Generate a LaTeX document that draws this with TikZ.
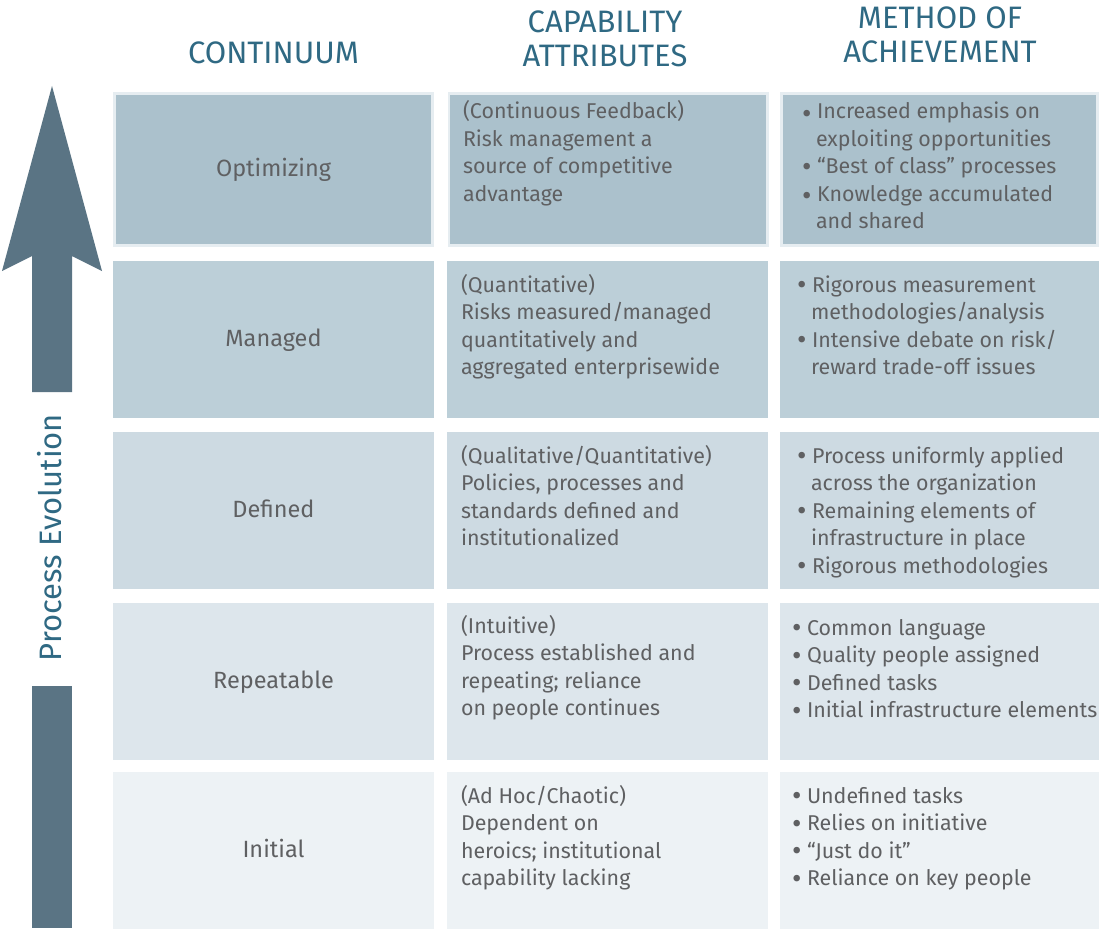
\documentclass[tikz,border=0pt]{standalone}
\usepackage{fontspec}
\setmainfont{Fira Sans}
\definecolor{rowA}{HTML}{ABC1CC}
\definecolor{rowB}{HTML}{BCCFD8}
\definecolor{rowC}{HTML}{CDDAE2}
\definecolor{rowD}{HTML}{DDE6EC}
\definecolor{rowE}{HTML}{EDF2F5}
\definecolor{edgec}{HTML}{E6EDF1}
\definecolor{txt}{HTML}{5F6062}
\definecolor{head}{HTML}{2F6983}
\definecolor{arrowc}{HTML}{5A7484}
\newcommand\bigdot{{\fontsize{29}{27.5}\selectfont•}}
\newcommand\bul{\makebox[15pt][l]{\raisebox{-2.5pt}{\bigdot}}}
\newcommand\lowbul{\makebox[15pt][l]{\raisebox{-4.5pt}{\bigdot}}}
\newcommand\ind{\hspace*{14pt}}
\newcommand\blk[1]{\parbox[t]{330pt}{\raggedright #1}}
\begin{document}
\begin{tikzpicture}[x=1pt,y=-1pt,
  cell/.style={draw=none, inner sep=0pt, outer sep=0pt, minimum width=321pt, minimum height=157pt},
  body/.style={inner sep=0pt, outer sep=0pt, text=txt, font=\fontsize{21.4}{27.5}\selectfont},
  label/.style={inner sep=0pt, outer sep=0pt, text=txt, font=\fontsize{23.5}{27.5}\selectfont, anchor=base},
  head/.style={inner sep=0pt, outer sep=0pt, text=head, font=\fontsize{31}{34}\selectfont, anchor=base}]
\useasboundingbox (0,0) rectangle (1099,928);
\fill[white] (0,0) rectangle (1099,928);
% top row (with light edge)
\node[cell, fill=edgec, minimum height=155pt] (e11) at (273.5,169.5) {};
\node[cell, fill=rowA, minimum width=315.5pt, minimum height=149.5pt] (c11) at (273.5,169.5) {};
\node[cell, fill=edgec, minimum height=155pt] (e12) at (608,169.5) {};
\node[cell, fill=rowA, minimum width=315.5pt, minimum height=149.5pt] (c12) at (608,169.5) {};
\node[cell, fill=edgec, minimum width=319pt, minimum height=155pt] (e13) at (939.5,169.5) {};
\node[cell, fill=rowA, minimum width=313.5pt, minimum height=149.5pt] (c13) at (939.5,169.5) {};
% other rows
\foreach \r/\yc/\col in {2/339.5/rowB, 3/510.5/rowC, 4/681.5/rowD, 5/850/rowE}{
  \node[cell, fill=\col] (c\r1) at (273.5,\yc) {};
  \node[cell, fill=\col] (c\r2) at (607.5,\yc) {};
  \node[cell, fill=\col, minimum width=319pt] (c\r3) at (939.5,\yc) {};
}
% headers
\node[head] (h1) at (273.5,64) {CONTINUUM};
\node[head] (h2) at (605,33) {\parbox[t]{300pt}{\centering CAPABILITY\\ATTRIBUTES}};
\node[head] (h3) at (940,29) {\parbox[t]{300pt}{\centering METHOD OF\\ACHIEVEMENT}};
% arrow
\fill[arrowc] (52,86) -- (102,271) -- (72,256) -- (72,392) -- (32,392) -- (32,256) -- (2,271) -- cycle;
\fill[arrowc] (32,686) rectangle (72,928);
\node[rotate=90, inner sep=0pt, text=head, font=\fontsize{31}{34}\selectfont] (pe) at (50,537.5) {Process Evolution};
% column 1 labels
\node[label] (l1) at (273.5,177) {Optimizing};
\node[label] (l2) at (273.5,346) {Managed};
\node[label] (l3) at (273.5,517) {Defined};
\node[label] (l4) at (273.5,688) {Repeatable};
\node[label] (l5) at (273.5,857) {Initial};
% column 2
\node[body, anchor=base west] (a1) at (463,119) {\blk{(Continuous Feedback)\\Risk management a\\source of competitive\\advantage}};
\node[body, anchor=base west] (a2) at (461,292) {\blk{(Quantitative)\\Risks measured/managed\\quantitatively and\\aggregated enterprisewide}};
\node[body, anchor=base west] (a3) at (461,463) {\blk{(Qualitative/Quantitative)\\Policies, processes and\\standards defined and\\institutionalized}};
\node[body, anchor=base west] (a4) at (461,633) {\blk{(Intuitive)\\Process established and\\repeating; reliance\\on people continues}};
\node[body, anchor=base west] (a5) at (461,803) {\blk{(Ad Hoc/Chaotic)\\Dependent on\\heroics; institutional\\capability lacking}};
% column 3
\node[body, anchor=base west] (m1) at (802,119) {\blk{\lowbul Increased emphasis on\\\ind exploiting opportunities\\\bul “Best of class” processes\\\lowbul Knowledge accumulated\\\ind and shared}};
\node[body, anchor=base west] (m2) at (797,292) {\blk{\bul Rigorous measurement\\\ind methodologies/analysis\\\bul Intensive debate on risk/\\\ind reward trade-off issues}};
\node[body, anchor=base west] (m3) at (797,463) {\blk{\bul Process uniformly applied\\\ind across the organization\\\bul Remaining elements of\\\ind infrastructure in place\\\bul Rigorous methodologies}};
\node[body, anchor=base west] (m4) at (792,635) {\blk{\bul Common language\\\bul Quality people assigned\\\bul Defined tasks\\\bul Initial infrastructure elements}};
\node[body, anchor=base west] (m5) at (792,803) {\blk{\bul Undefined tasks\\\bul Relies on initiative\\\bul “Just do it”\\\bul Reliance on key people}};
\end{tikzpicture}
\end{document}
